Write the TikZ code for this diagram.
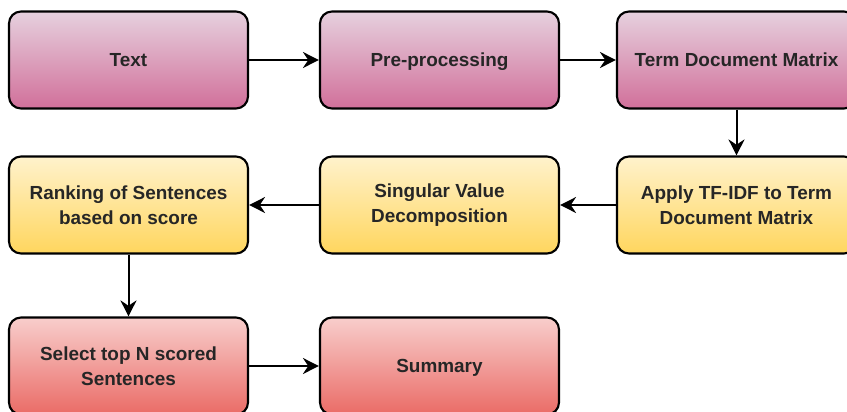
\documentclass[tikz,border=0pt]{standalone}
\usepackage{fontspec}
\setmainfont{Liberation Sans}
\usetikzlibrary{arrows.meta}
\definecolor{pinkT}{HTML}{E6D0DE}
\definecolor{pinkB}{HTML}{D1709A}
\definecolor{yelT}{HTML}{FFF2CC}
\definecolor{yelB}{HTML}{FFD65E}
\definecolor{redT}{HTML}{F8CECC}
\definecolor{redB}{HTML}{EA6B66}
\definecolor{ink}{HTML}{262626}
\tikzset{
  box/.style={draw=black, line width=1.6pt, rounded corners=9pt,
    minimum width=179.25pt, minimum height=72.75pt, align=center,
    text=ink, font=\fontsize{14.2}{18.75}\selectfont\bfseries, inner sep=2pt},
  oneline/.style={text height=10.2pt, text depth=0pt},
  pinkbox/.style={box, top color=pinkT, bottom color=pinkB},
  yelbox/.style={box, top color=yelT, bottom color=yelB},
  redbox/.style={box, top color=redT, bottom color=redB},
  flow/.style={line width=1.5pt, -{Stealth[length=12pt,width=12pt,inset=4pt]}}
}
\begin{document}
\begin{tikzpicture}[x=0.75pt, y=-0.75pt]
  \useasboundingbox (0,0) rectangle (847,411);
  % top row
  \node[pinkbox, oneline] (text) at (128.5,60) {Text};
  \node[pinkbox, oneline] (pre)  at (439.5,60) {Pre-processing};
  \node[pinkbox, oneline] (tdm)  at (736.5,60) {Term Document Matrix};
  % middle row
  \node[yelbox] (tfidf) at (736.5,205) {Apply TF-IDF to Term\\Document Matrix};
  \node[yelbox] (svd)   at (439.5,205) {Singular Value\\Decomposition};
  \node[yelbox] (rank)  at (128.5,205) {Ranking of Sentences\\based on score};
  % bottom row
  \node[redbox] (sel) at (128.5,366) {Select top N scored\\Sentences};
  \node[redbox, oneline] (sum) at (439.5,366) {Summary};
  % connectors
  \draw[flow] (text) -- (pre);
  \draw[flow] (pre) -- (tdm);
  \draw[flow] (tdm) -- (tfidf);
  \draw[flow] (tfidf) -- (svd);
  \draw[flow] (svd) -- (rank);
  \draw[flow] (rank) -- (sel);
  \draw[flow] (sel) -- (sum);
\end{tikzpicture}
\end{document}
